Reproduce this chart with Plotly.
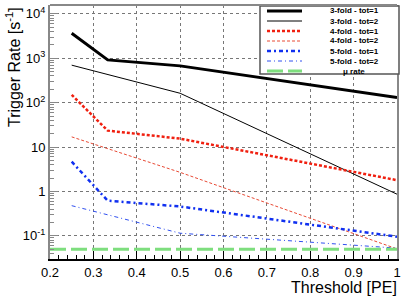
import plotly.graph_objects as go

# ---- data ----
thresholds = [0.25, 0.333, 0.5, 1.0]
fold3_tot1 = [3650, 920, 675, 130]
fold3_tot2 = [700, 435, 163, 0.87]
fold4_tot1 = [150, 23.5, 15.5, 1.8]
fold4_tot2 = [17, 9.2, 2.7, 0.051]
fold5_tot1 = [4.7, 0.62, 0.46, 0.096]
fold5_tot2 = [0.48, 0.3, 0.115, 0.053]
mu_x = [0.2, 1.0]
mu_rate = [0.05, 0.05]

names = ["3-fold - tot=1", "3-fold - tot=2", "4-fold - tot=1", "4-fold - tot=2",
         "5-fold - tot=1", "5-fold - tot=2", "\u03bc rate"]
series = [fold3_tot1, fold3_tot2, fold4_tot1, fold4_tot2, fold5_tot1, fold5_tot2]
colors = ["black", "black", "#f02010", "#e84a35", "#1030f0", "#3050f0", "#7ede7e"]
widths = [3, 1, 2.5, 1, 2.5, 1, 3]
dashes = ["solid", "solid", "3px,2px", "3px,2px", "4px,3px,2px,3px", "4px,3px,1px,3px", "16px,5px"]

y_tickvals = [0.1, 1, 10, 100, 1000, 10000]
y_ticktext = ["10<sup>-1</sup>", "1", "10", "10<sup>2</sup>", "10<sup>3</sup>", "10<sup>4</sup>"]
y_minor = [m * 10 ** e for e in range(-2, 5) for m in range(2, 10)]
x_tickvals = [0.2, 0.3, 0.4, 0.5, 0.6, 0.7, 0.8, 0.9, 1.0]
x_ticktext = ["0.2", "0.3", "0.4", "0.5", "0.6", "0.7", "0.8", "0.9", "1"]

W, H = 407, 300
L, R, T, B = 50, 10, 5, 41

fig = go.Figure()
for i, ys in enumerate(series):
    fig.add_trace(go.Scatter(x=thresholds, y=ys, mode="lines", name=names[i],
                             line=dict(color=colors[i], width=widths[i], dash=dashes[i]),
                             showlegend=False))
fig.add_trace(go.Scatter(x=mu_x, y=mu_rate, mode="lines", name=names[6],
                         line=dict(color=colors[6], width=widths[6], dash=dashes[6]),
                         showlegend=False))

font = "Liberation Sans, Arial, Helvetica, sans-serif"

def px2paper(px, py):
    return (px - L) / (W - L - R), (H - B - py) / (H - T - B)

# custom ROOT-style legend
x0, y0 = px2paper(260, 6)
x1, y1 = px2paper(399, 74)
shapes = [dict(type="rect", xref="paper", yref="paper", x0=x0, y0=y1, x1=x1, y1=y0,
               line=dict(color="#555", width=1.5), fillcolor="white", layer="above")]
annotations = []
for i, nm in enumerate(names):
    cy = 11 + i * 10
    sx0, sy = px2paper(267, cy)
    sx1, _ = px2paper(302, cy)
    shapes.append(dict(type="line", xref="paper", yref="paper", x0=sx0, x1=sx1, y0=sy, y1=sy,
                       line=dict(color=colors[i], width=widths[i], dash=dashes[i]), layer="above"))
    tx, ty = px2paper(354, cy)
    annotations.append(dict(x=tx, y=ty, xref="paper", yref="paper", text="<b>%s</b>" % nm,
                            showarrow=False, xanchor="center", yanchor="middle",
                            font=dict(family=font, size=8, color="black")))
# top frame line
shapes.append(dict(type="line", xref="paper", yref="paper", x0=0, x1=1, y0=1, y1=1,
                   line=dict(color="#888", width=2), layer="above"))

tx, ty = px2paper(13, 5)
annotations.append(dict(x=tx, y=ty, xref="paper", yref="paper", text="Trigger Rate [s<sup>-1</sup>]",
                        textangle=-90, showarrow=False, xanchor="center", yanchor="top",
                        font=dict(family=font, size=16, color="black")))
tx, ty = px2paper(399, 277)
annotations.append(dict(x=tx, y=ty, xref="paper", yref="paper", text="Threshold [PE]",
                        showarrow=False, xanchor="right", yanchor="top",
                        font=dict(family=font, size=16, color="black")))

fig.update_layout(
    width=W, height=H, margin=dict(l=L, r=R, t=T, b=B),
    paper_bgcolor="white", plot_bgcolor="white",
    font=dict(family=font, size=13, color="black"),
    shapes=shapes, annotations=annotations,
    xaxis=dict(range=[0.2, 1.0], tickmode="array", tickvals=x_tickvals, ticktext=x_ticktext,
               ticks="inside", ticklen=8, tickcolor="black", tickwidth=1,
               showline=True, linecolor="black", linewidth=2, mirror=False,
               showgrid=True, gridcolor="#777", griddash="dot", gridwidth=1, zeroline=False,
               minor=dict(dtick=0.02, tick0=0.2, ticks="inside", ticklen=4, tickcolor="black",
                          showgrid=False),
               tickfont=dict(size=13)),
    yaxis=dict(type="log", range=[-1.52, 4.2], tickmode="array", tickvals=y_tickvals,
               ticktext=y_ticktext, ticks="inside", ticklen=8, tickcolor="#888", tickwidth=1,
               showline=True, linecolor="#888", linewidth=2, mirror=True,
               showgrid=True, gridcolor="#777", griddash="dot", gridwidth=1, zeroline=False,
               minor=dict(tickmode="array", tickvals=y_minor, ticks="inside", ticklen=4,
                          tickcolor="#888", showgrid=False),
               tickfont=dict(size=13)),
)

fig.write_html("out.html", config={"displayModeBar": False},
               post_script="document.body.style.margin='0';")
